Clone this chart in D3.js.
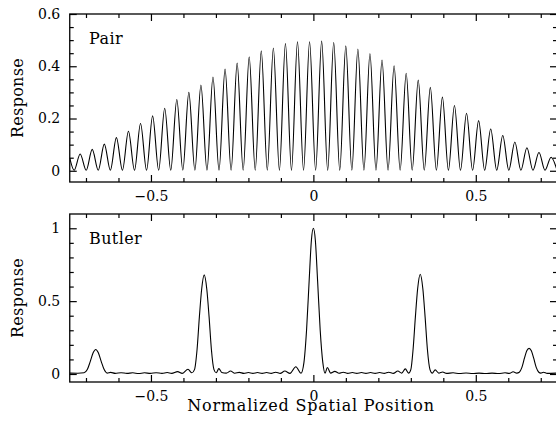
<!DOCTYPE html>
<html>
<head>
<meta charset="utf-8">
<script src="https://cdn.jsdelivr.net/npm/d3@7"></script>
<style>
  body { margin: 0; background: #fff; }
  svg text { font-family: "DejaVu Serif", serif; fill: #000; }
</style>
</head>
<body>
<div id="chart"></div>
<script>
//  ---------------  DATA  ---------------
const xLabelTicks = [-0.5, 0, 0.5];
const xMinorTicks = [-0.7, -0.6, -0.4, -0.3, -0.2, -0.1, 0.1, 0.2, 0.3, 0.4, 0.6, 0.7];

const pairYTicks = [0, 0.2, 0.4, 0.6];
const pairYMinor = [0.05, 0.1, 0.15, 0.25, 0.3, 0.35, 0.45, 0.5, 0.55];
const butlerYTicks = [0, 0.5, 1];
const butlerYMinor = [0.1, 0.2, 0.3, 0.4, 0.6, 0.7, 0.8, 0.9];

// Pair : fringe maxima and the zeros between them
const pairPeakX = [-0.7179, -0.6808, -0.6436, -0.6064, -0.5693, -0.5321, -0.4949, -0.4577, -0.4204, -0.3834,
  -0.3462, -0.3091, -0.2719, -0.2347, -0.1976, -0.1604, -0.1232, -0.0860, -0.0489, -0.0117,
  0.0255, 0.0626, 0.0998, 0.1370, 0.1742, 0.2113, 0.2485, 0.2857, 0.3228, 0.3600,
  0.3972, 0.4343, 0.4715, 0.5087, 0.5459, 0.5830, 0.6202, 0.6574, 0.6945, 0.7317];
const pairPeakY = [0.064, 0.082, 0.102, 0.127, 0.151, 0.181, 0.210, 0.239, 0.273, 0.300,
  0.328, 0.359, 0.389, 0.412, 0.436, 0.459, 0.470, 0.487, 0.494, 0.494,
  0.496, 0.491, 0.478, 0.466, 0.449, 0.424, 0.402, 0.373, 0.347, 0.319,
  0.282, 0.250, 0.220, 0.192, 0.160, 0.135, 0.110, 0.088, 0.070, 0.052];
const pairTroughX = [-0.7365, -0.6994, -0.6622, -0.6250, -0.5878, -0.5507, -0.5135, -0.4763, -0.4391, -0.4019,
  -0.3648, -0.3276, -0.2905, -0.2533, -0.2161, -0.1790, -0.1418, -0.1046, -0.0674, -0.0303,
  0.0069, 0.0440, 0.0812, 0.1184, 0.1556, 0.1927, 0.2299, 0.2671, 0.3042, 0.3414,
  0.3786, 0.4157, 0.4529, 0.4901, 0.5273, 0.5644, 0.6016, 0.6388, 0.6759, 0.7131, 0.7500];
const pairEdge = [-0.75, 0.048];

// Butler : traced points
const butlerX = [-0.750, -0.725, -0.706, -0.696, -0.687, -0.678, -0.670, -0.662, -0.653, -0.644,
  -0.635, -0.624, -0.610, -0.592, -0.574, -0.556, -0.538, -0.520, -0.502, -0.484,
  -0.466, -0.450, -0.436, -0.418, -0.404, -0.386, -0.374, -0.366, -0.358, -0.351,
  -0.344, -0.336, -0.328, -0.321, -0.314, -0.306, -0.299, -0.291, -0.282, -0.268,
  -0.255, -0.242, -0.228, -0.214, -0.200, -0.186, -0.172, -0.158, -0.144, -0.130,
  -0.116, -0.102, -0.088, -0.072, -0.054, -0.038, -0.029, -0.021, -0.013, -0.006,
  0.000, 0.006, 0.013, 0.021, 0.029, 0.036, 0.043, 0.053, 0.066, 0.079,
  0.092, 0.106, 0.120, 0.134, 0.148, 0.162, 0.176, 0.190, 0.204, 0.218,
  0.232, 0.246, 0.260, 0.272, 0.283, 0.293, 0.300, 0.307, 0.314, 0.321,
  0.329, 0.337, 0.344, 0.351, 0.359, 0.366, 0.375, 0.386, 0.398, 0.410,
  0.430, 0.450, 0.470, 0.490, 0.510, 0.530, 0.550, 0.570, 0.590, 0.603,
  0.615, 0.626, 0.634, 0.642, 0.650, 0.657, 0.664, 0.671, 0.678, 0.686,
  0.694, 0.700, 0.708, 0.720, 0.750];
const butlerY = [0.006, 0.005, 0.008, 0.030, 0.085, 0.145, 0.168, 0.145, 0.085, 0.030,
  0.006, 0.011, 0.004, 0.009, 0.004, 0.008, 0.003, 0.008, 0.004, 0.009,
  0.004, 0.010, 0.004, 0.016, 0.004, 0.032, 0.008, 0.030, 0.170, 0.390,
  0.580, 0.680, 0.580, 0.390, 0.170, 0.030, 0.008, 0.037, 0.010, 0.006,
  0.020, 0.005, 0.011, 0.004, 0.010, 0.004, 0.010, 0.004, 0.010, 0.004,
  0.012, 0.004, 0.020, 0.004, 0.050, 0.005, 0.080, 0.300, 0.640, 0.920,
  1.000, 0.920, 0.640, 0.300, 0.080, 0.005, 0.045, 0.006, 0.018, 0.005,
  0.012, 0.004, 0.010, 0.004, 0.010, 0.004, 0.010, 0.004, 0.010, 0.004,
  0.012, 0.004, 0.020, 0.006, 0.035, 0.006, 0.030, 0.170, 0.390, 0.585,
  0.685, 0.585, 0.390, 0.170, 0.030, 0.006, 0.028, 0.006, 0.014, 0.004,
  0.008, 0.003, 0.007, 0.003, 0.006, 0.003, 0.006, 0.003, 0.008, 0.004,
  0.015, 0.006, 0.012, 0.045, 0.110, 0.160, 0.176, 0.160, 0.110, 0.045,
  0.012, 0.006, 0.012, 0.004, 0.006];

//  ---------------  INITIALIZATION  ---------------
const svgWidth = 556;
const svgHeight = 424;
const plotLeft = 69.75;
const plotRight = 557;

const svg = d3.select("#chart")
  .append("svg")
  .attr("width", svgWidth)
  .attr("height", svgHeight);

const x = d3.scaleLinear().domain([-0.75, 0.75]).range([plotLeft, plotRight]);

const panels = [
  { name: "Pair", top: 14, bottom: 182, domain: [-0.043, 0.6], yTicks: pairYTicks, yMinor: pairYMinor },
  { name: "Butler", top: 214, bottom: 382, domain: [-0.055, 1.098], yTicks: butlerYTicks, yMinor: butlerYMinor }
];

let pairPoints = pairPeakX.map((d, i) => [d, pairPeakY[i]])
  .concat(pairTroughX.map(d => [d, 0.002]))
  .concat([pairEdge]);
pairPoints.sort((a, b) => a[0] - b[0]);
const butlerPoints = butlerX.map((d, i) => [d, butlerY[i]]);
panels[0].points = pairPoints;
panels[1].points = butlerPoints;

const fmt = d3.format("~g");

panels.forEach((p, idx) => {
  const y = d3.scaleLinear().domain(p.domain).range([p.bottom, p.top]);
  const g = svg.append("g");

  // clip
  svg.append("clipPath").attr("id", "clip" + idx)
    .append("rect")
    .attr("x", plotLeft).attr("y", p.top)
    .attr("width", plotRight - plotLeft).attr("height", p.bottom - p.top);

  // ---- axes (ticks pointing inward) ----
  const axes = [
    [d3.axisBottom(x).tickValues(xLabelTicks).tickSize(-7).tickPadding(9).tickFormat(fmt), `translate(0,${p.bottom})`],
    [d3.axisBottom(x).tickValues(xMinorTicks).tickSize(-4).tickFormat(""), `translate(0,${p.bottom})`],
    [d3.axisTop(x).tickValues(xLabelTicks).tickSize(-7).tickFormat(""), `translate(0,${p.top})`],
    [d3.axisTop(x).tickValues(xMinorTicks).tickSize(-4).tickFormat(""), `translate(0,${p.top})`],
    [d3.axisLeft(y).tickValues(p.yTicks).tickSize(-7).tickPadding(9.5).tickFormat(fmt), `translate(${plotLeft},0)`],
    [d3.axisLeft(y).tickValues(p.yMinor).tickSize(-4).tickFormat(""), `translate(${plotLeft},0)`],
    [d3.axisRight(y).tickValues(p.yTicks).tickSize(-7).tickFormat(""), `translate(${plotRight},0)`],
    [d3.axisRight(y).tickValues(p.yMinor).tickSize(-4).tickFormat(""), `translate(${plotRight},0)`]
  ];
  axes.forEach(a => {
    const ax = g.append("g").attr("transform", a[1]).call(a[0]);
    ax.select(".domain").remove();
    ax.selectAll("line").attr("stroke", "#000").attr("stroke-width", 1.2);
    ax.selectAll("text").style("font-family", '"DejaVu Serif", serif').style("font-size", "14px").attr("fill", "#000");
  });

  // frame
  g.append("rect")
    .attr("x", plotLeft).attr("y", p.top)
    .attr("width", plotRight - plotLeft).attr("height", p.bottom - p.top)
    .attr("fill", "none").attr("stroke", "#000").attr("stroke-width", 1.3);

  // curve
  const line = d3.line()
    .x(d => x(d[0]))
    .y(d => y(d[1]))
    .curve(d3.curveMonotoneX);
  g.append("path")
    .datum(p.points)
    .attr("clip-path", `url(#clip${idx})`)
    .attr("d", line)
    .attr("fill", "none")
    .attr("stroke", "#000")
    .attr("stroke-width", 1.1);

  // panel label
  g.append("text")
    .attr("x", 89)
    .attr("y", p.top + 29.5)
    .style("font-size", "16px")
    .style("letter-spacing", "0.4px")
    .text(p.name);

  // y title
  g.append("text")
    .attr("transform", `translate(23,${(p.top + p.bottom) / 2}) rotate(-90)`)
    .attr("text-anchor", "middle")
    .style("font-size", "16px")
    .style("letter-spacing", "0.3px")
    .text("Response");
});

//  ---------------  X TITLE  ---------------
svg.append("text")
  .attr("x", 311)
  .attr("y", 411)
  .attr("text-anchor", "middle")
  .style("font-size", "16px")
  .style("letter-spacing", "0.8px")
  .text("Normalized Spatial Position");
</script>
</body>
</html>
